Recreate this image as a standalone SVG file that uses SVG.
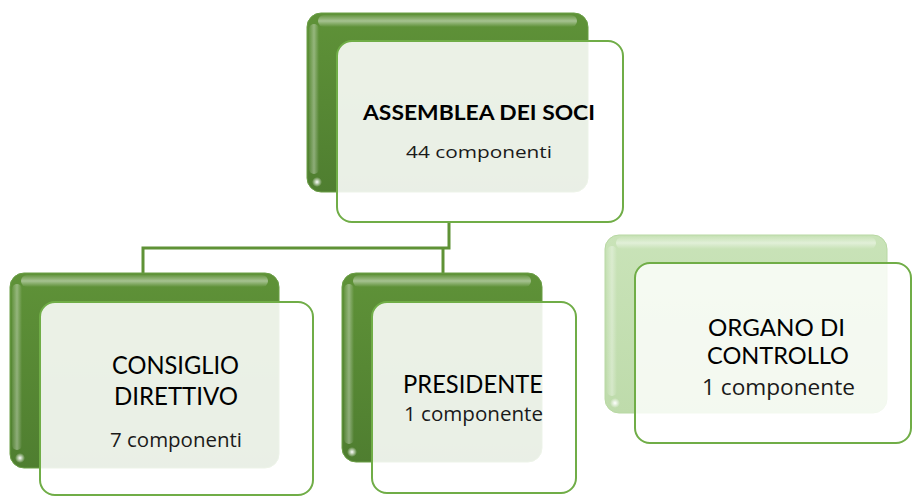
<svg xmlns="http://www.w3.org/2000/svg" width="912" height="497" viewBox="0 0 912 497">
<defs>
<linearGradient id="gDark" x1="0" y1="0" x2="0" y2="1">
<stop offset="0" stop-color="#5f9238"/>
<stop offset="1" stop-color="#4f7e30"/>
</linearGradient>
<linearGradient id="gLight" x1="0" y1="0" x2="0" y2="1">
<stop offset="0" stop-color="#c9e3b8"/>
<stop offset="1" stop-color="#bedbab"/>
</linearGradient>
<linearGradient id="gTop" x1="0" y1="0" x2="0" y2="1">
<stop offset="0" stop-color="#ffffff" stop-opacity="0.05"/>
<stop offset="0.5" stop-color="#ffffff" stop-opacity="0.45"/>
<stop offset="1" stop-color="#ffffff" stop-opacity="0"/>
</linearGradient>
<linearGradient id="gLeft" x1="0" y1="0" x2="1" y2="0">
<stop offset="0" stop-color="#ffffff" stop-opacity="0.05"/>
<stop offset="0.5" stop-color="#ffffff" stop-opacity="0.35"/>
<stop offset="1" stop-color="#ffffff" stop-opacity="0"/>
</linearGradient>
<radialGradient id="gDot">
<stop offset="0" stop-color="#ffffff" stop-opacity="1"/>
<stop offset="1" stop-color="#ffffff" stop-opacity="0"/>
</radialGradient>
</defs>
<style>
.backD{fill:url(#gDark);stroke:#6a9e45;stroke-width:1}
.backL{fill:url(#gLight);stroke:#b8d8a3;stroke-width:1}
.hlT{fill:url(#gTop)}
.hlL{fill:url(#gLeft)}
.front{fill:#ffffff;fill-opacity:0.88;stroke:#70ad47;stroke-width:2}
.frontL{fill:#ffffff;fill-opacity:0.82;stroke:#70ad47;stroke-width:2}
.conn{fill:none;stroke:#5f9236;stroke-width:3}
.t{font-family:Lato,"Open Sans",sans-serif;fill:#000;text-anchor:middle}
.b{font-weight:bold}
.s{font-family:"Open Sans","Noto Sans",sans-serif;fill:#1a1a1a;text-anchor:middle}
</style>
<g id="connectors">
<path class="conn" d="M449,222 V248 H143 V273"/>
<path class="conn" d="M443,248 V273"/>
</g>
<g id="assemblea">
<rect class="backD" x="307" y="13" width="281" height="179" rx="14"/>
<rect class="hlT" x="318" y="15" width="259" height="12" rx="6"/>
<rect class="hlL" x="309" y="24" width="10" height="150" rx="5"/>
<circle cx="317" cy="182" r="5" fill="url(#gDot)"/>
<rect class="front" x="337" y="41" width="286" height="181" rx="15"/>
<text class="t b" x="479" y="120" font-size="21" textLength="232" lengthAdjust="spacingAndGlyphs">ASSEMBLEA DEI SOCI</text>
<text class="s" x="479" y="158" font-size="17" textLength="146" lengthAdjust="spacingAndGlyphs">44 componenti</text>
</g>
<g id="consiglio">
<rect class="backD" x="10" y="273" width="269" height="195" rx="14"/>
<rect class="hlT" x="21" y="275" width="247" height="12" rx="6"/>
<rect class="hlL" x="12" y="284" width="10" height="166" rx="5"/>
<circle cx="20" cy="458" r="5" fill="url(#gDot)"/>
<rect class="front" x="40" y="302" width="273" height="193" rx="15"/>
<text class="t" x="175.5" y="374" font-size="25" textLength="127" lengthAdjust="spacingAndGlyphs">CONSIGLIO</text>
<text class="t" x="176" y="405" font-size="25" textLength="124" lengthAdjust="spacingAndGlyphs">DIRETTIVO</text>
<text class="s" x="176" y="447" font-size="20" textLength="132" lengthAdjust="spacingAndGlyphs">7 componenti</text>
</g>
<g id="presidente">
<rect class="backD" x="342" y="273" width="200" height="189" rx="14"/>
<rect class="hlT" x="353" y="275" width="178" height="12" rx="6"/>
<rect class="hlL" x="344" y="284" width="10" height="160" rx="5"/>
<circle cx="352" cy="452" r="5" fill="url(#gDot)"/>
<rect class="front" x="372" y="302" width="204" height="191" rx="15"/>
<text class="t" x="473" y="393" font-size="25" textLength="140" lengthAdjust="spacingAndGlyphs">PRESIDENTE</text>
<text class="s" x="473.5" y="421" font-size="20" textLength="139" lengthAdjust="spacingAndGlyphs">1 componente</text>
</g>
<g id="organo">
<rect class="backL" x="605" y="235" width="282" height="178" rx="14"/>
<rect class="hlT" x="616" y="237" width="260" height="12" rx="6"/>
<rect class="hlL" x="607" y="246" width="10" height="150" rx="5"/>
<circle cx="615" cy="403" r="5" fill="url(#gDot)"/>
<rect class="frontL" x="635" y="263" width="276" height="180" rx="15"/>
<text class="t" x="776.5" y="336" font-size="23" textLength="137" lengthAdjust="spacingAndGlyphs">ORGANO DI</text>
<text class="t" x="778" y="364" font-size="23" textLength="142" lengthAdjust="spacingAndGlyphs">CONTROLLO</text>
<text class="s" x="778.5" y="395" font-size="22" textLength="153" lengthAdjust="spacingAndGlyphs">1 componente</text>
</g>
</svg>
